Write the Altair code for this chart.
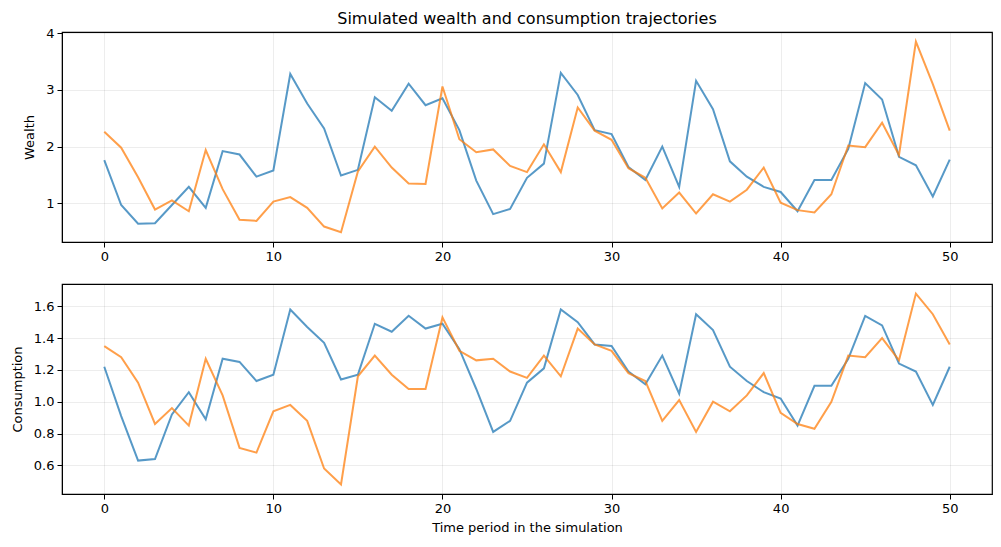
import altair as alt
import pandas as pd

t = list(range(51))

wealth_a = [1.76, 0.97, 0.64, 0.65, 0.97, 1.29, 0.92, 1.92, 1.86, 1.47,
            1.58, 3.28, 2.76, 2.32, 1.49, 1.59, 2.87, 2.63, 3.11, 2.73,
            2.85, 2.29, 1.40, 0.81, 0.90, 1.45, 1.70, 3.30, 2.91, 2.29,
            2.22, 1.64, 1.41, 2.00, 1.29, 3.16, 2.66, 1.74, 1.47, 1.29,
            1.20, 0.86, 1.41, 1.41, 1.96, 3.12, 2.83, 1.82, 1.67, 1.12,
            1.77]
wealth_b = [2.26, 1.98, 1.46, 0.89, 1.05, 0.86, 1.94, 1.25, 0.71, 0.69,
            1.03, 1.11, 0.92, 0.59, 0.49, 1.56, 2.00, 1.63, 1.35, 1.34,
            3.06, 2.13, 1.90, 1.95, 1.66, 1.55, 2.04, 1.55, 2.69, 2.28,
            2.12, 1.62, 1.45, 0.91, 1.19, 0.82, 1.16, 1.03, 1.24, 1.63,
            1.01, 0.88, 0.84, 1.16, 2.02, 1.99, 2.42, 1.85, 3.85, 3.10,
            2.28]
cons_a = [1.22, 0.91, 0.63, 0.64, 0.92, 1.06, 0.89, 1.27, 1.25, 1.13,
          1.17, 1.58, 1.47, 1.37, 1.14, 1.17, 1.49, 1.44, 1.54, 1.46,
          1.49, 1.33, 1.08, 0.81, 0.88, 1.12, 1.21, 1.58, 1.50, 1.36,
          1.35, 1.19, 1.11, 1.29, 1.05, 1.55, 1.45, 1.22, 1.13, 1.06,
          1.02, 0.85, 1.10, 1.10, 1.27, 1.54, 1.48, 1.24, 1.19, 0.98,
          1.22]
cons_b = [1.35, 1.28, 1.12, 0.86, 0.96, 0.85, 1.27, 1.04, 0.71, 0.68,
          0.94, 0.98, 0.88, 0.58, 0.48, 1.16, 1.29, 1.17, 1.08, 1.08,
          1.53, 1.32, 1.26, 1.27, 1.19, 1.15, 1.29, 1.16, 1.46, 1.36,
          1.32, 1.18, 1.13, 0.88, 1.01, 0.81, 1.00, 0.94, 1.04, 1.18,
          0.93, 0.86, 0.83, 1.00, 1.29, 1.28, 1.40, 1.26, 1.68, 1.55,
          1.36]

colors = ["#1f77b4", "#ff7f0e"]

wdf = pd.DataFrame({"t": t * 2, "v": wealth_a + wealth_b,
                    "s": ["a"] * 51 + ["b"] * 51})
cdf = pd.DataFrame({"t": t * 2, "v": cons_a + cons_b,
                    "s": ["a"] * 51 + ["b"] * 51})

FONT = "DejaVu Sans"
W, H = 930, 210

xaxis_common = dict(values=[0, 10, 20, 30, 40, 50], grid=True, gridColor="#000000",
                    gridOpacity=0.07, tickColor="black", tickSize=5, labelFontSize=13,
                    labelColor="black", domainColor="black", labelFont=FONT,
                    titleFont=FONT, titleFontSize=13, titleFontWeight="normal",
                    titleColor="black", labelPadding=3, titlePadding=6)
yaxis_common = dict(grid=True, gridColor="#000000", gridOpacity=0.07, tickColor="black",
                    tickSize=5, labelFontSize=13, labelColor="black", domainColor="black",
                    labelFont=FONT, titleFont=FONT, titleFontSize=13,
                    titleFontWeight="normal", titleColor="black", labelPadding=3,
                    titlePadding=9)

color = alt.Color("s:N", scale=alt.Scale(domain=["a", "b"], range=colors), legend=None)

top = alt.Chart(wdf).mark_line(strokeWidth=2, opacity=0.75).encode(
    x=alt.X("t:Q", scale=alt.Scale(domain=[-2.5, 52.5], nice=False, zero=False),
            axis=alt.Axis(title=None, **xaxis_common)),
    y=alt.Y("v:Q", scale=alt.Scale(domain=[0.318, 4.02], nice=False, zero=False),
            axis=alt.Axis(title="Wealth", values=[1, 2, 3, 4], format="d", **yaxis_common)),
    color=color,
    detail="s:N",
).properties(width=W, height=H,
             title=alt.TitleParams("Simulated wealth and consumption trajectories",
                                   font=FONT, fontSize=16, fontWeight="normal",
                                   color="black", anchor="middle", frame="group",
                                   offset=0))

bottom = alt.Chart(cdf).mark_line(strokeWidth=2, opacity=0.75).encode(
    x=alt.X("t:Q", scale=alt.Scale(domain=[-2.5, 52.5], nice=False, zero=False),
            axis=alt.Axis(title="Time period in the simulation", **xaxis_common)),
    y=alt.Y("v:Q", scale=alt.Scale(domain=[0.42, 1.74], nice=False, zero=False),
            axis=alt.Axis(title="Consumption", values=[0.6, 0.8, 1.0, 1.2, 1.4, 1.6],
                          format=".1f", **yaxis_common)),
    color=color,
    detail="s:N",
).properties(width=W, height=H)

chart = alt.vconcat(top, bottom, spacing=19).configure_view(
    stroke="black", strokeWidth=1.2
).properties(padding={"left": 2, "top": 2, "right": 0, "bottom": 0})

chart.save("out.html", embed_options={"renderer": "svg", "actions": False})
